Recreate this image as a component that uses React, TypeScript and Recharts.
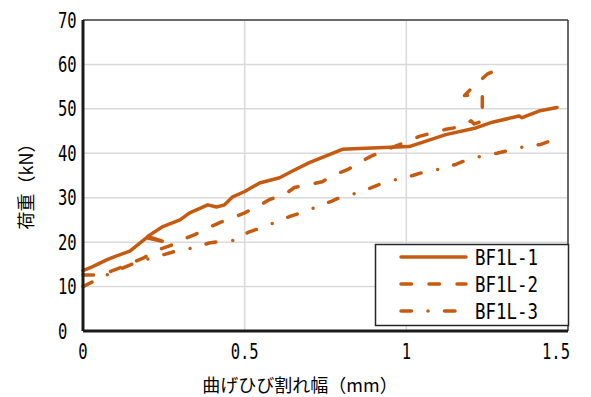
import React from 'react';
import { LineChart, Line, XAxis, YAxis, CartesianGrid, ReferenceLine } from 'recharts';

const xTicks = [0, 0.5, 1, 1.5];
const yTicks = [0, 10, 20, 30, 40, 50, 60, 70];
const seriesNames = ['BF1L-1', 'BF1L-2', 'BF1L-3'];

// BF1L-1: crack width (mm) / load (kN)
const bf1l1Width = [0, 0.03, 0.073, 0.1, 0.145, 0.197, 0.245, 0.2, 0.247, 0.3, 0.33, 0.386, 0.413, 0.438, 0.463, 0.5, 0.546, 0.608, 0.648, 0.7, 0.752, 0.802, 0.855, 1.009, 1.122, 1.215, 1.266, 1.349, 1.358, 1.41, 1.466];
const bf1l1Load = [13.6, 14.5, 16, 16.8, 18, 21, 20.2, 21.3, 23.5, 25, 26.6, 28.4, 27.9, 28.4, 30.2, 31.4, 33.3, 34.5, 36, 37.9, 39.4, 40.9, 41.1, 41.5, 44.2, 45.7, 47, 48.4, 48, 49.5, 50.3];

// BF1L-2
const bf1l2Width = [0, 0.036, 0.073, 0.114, 0.135, 0.186, 0.225, 0.27, 0.305, 0.346, 0.386, 0.423, 0.463, 0.5, 0.54, 0.577, 0.623, 0.654, 0.7, 0.74, 0.778, 0.818, 0.855, 0.89, 0.926, 0.963, 1.003, 1.04, 1.086, 1.123, 1.17, 1.2, 1.21, 1.235, 1.235, 1.18, 1.2, 1.25, 1.3];
const bf1l2Load = [12.6, 12.6, 13.1, 14.2, 14.9, 16.4, 18.1, 19.2, 20.5, 21.7, 23.2, 24.4, 25.5, 26.6, 28, 29.6, 30.7, 32.3, 33, 33.6, 35.2, 36.3, 37.9, 39.3, 40.4, 41.5, 42.7, 43.8, 44.7, 45.4, 46, 47.3, 46.6, 47.2, 53.3, 53, 54.5, 57.8, 59.5];

// BF1L-3
const bf1l3Width = [0, 0.036, 0.08, 0.15, 0.21, 0.27, 0.3, 0.343, 0.39, 0.43, 0.474, 0.51, 0.55, 0.595, 0.64, 0.675, 0.72, 0.768, 0.8, 0.85, 0.89, 0.927, 0.975, 1.02, 1.06, 1.107, 1.153, 1.19, 1.236, 1.28, 1.32, 1.37, 1.416, 1.457];
const bf1l3Load = [10, 11.3, 12.8, 15, 16.4, 17.6, 18.3, 18.7, 19.8, 20.2, 20.4, 22.2, 23.2, 24.5, 25.8, 26.6, 27.9, 29.2, 30.2, 31.1, 32.2, 33.3, 34.2, 35, 35.9, 36.5, 37.5, 38.6, 39.4, 40, 40.7, 41.6, 42, 43.1];

const toPoints = (w: number[], p: number[]) => w.map((v, i) => ({ w: v, p: p[i] }));

const LINE_COLOR = '#C55A11';
const monoFont = '"DejaVu Sans Mono", "Liberation Mono", monospace';
const jpFont = '"Noto Sans CJK JP", "Noto Sans", sans-serif';

const dashes = ['', '10.5 17.5', '10 17 0 16.6'];
const legendDashes = ['', '10.5 17.5', '10.5 16.5 0 16.5'];

function YTick({ y, payload }: any) {
  return (
    <g transform={`translate(58, ${y})`}>
      <text transform="scale(0.74, 1)" dy="0.36em" textAnchor="start" fontFamily={monoFont} fontSize={21} fill="#000">
        {payload.value}
      </text>
    </g>
  );
}

function XTick({ x, payload }: any) {
  const last = payload.value === 1.5;
  return (
    <g transform={`translate(${last ? x - 12 : x}, 351)`}>
      <text transform="scale(0.74, 1)" dy="0.36em" textAnchor="middle" fontFamily={monoFont} fontSize={21} fill="#000">
        {String(payload.value)}
      </text>
    </g>
  );
}

export default function App() {
  const series = [
    toPoints(bf1l1Width, bf1l1Load),
    toPoints(bf1l2Width, bf1l2Load),
    toPoints(bf1l3Width, bf1l3Load),
  ];
  return (
    <div style={{ position: 'relative', width: 591, height: 397, background: '#fff' }}>
      <style>{`body { margin: 0; }`}</style>
      <LineChart width={591} height={397} margin={{ top: 20, right: 23, bottom: 0, left: 0 }}>
        <CartesianGrid stroke="#D9D9D9" strokeWidth={1.5} />
        <XAxis
          dataKey="w"
          type="number"
          domain={[0, 1.5]}
          ticks={xTicks}
          height={66}
          tickLine={false}
          axisLine={{ stroke: '#1A1A1A', strokeWidth: 3 }}
          tick={<XTick />}
          allowDuplicatedCategory={false}
          label={{
            content: () => (
              <text x={300} y={392} textAnchor="middle" fontFamily={jpFont} fontSize={18} fill="#000">
                曲げひび割れ幅（mm）
              </text>
            ),
          }}
        />
        <YAxis
          type="number"
          domain={[0, 70]}
          ticks={yTicks}
          width={83}
          tickLine={false}
          axisLine={{ stroke: '#1A1A1A', strokeWidth: 3 }}
          tick={<YTick />}
          label={{
            content: () => (
              <text
                x={25}
                y={182}
                transform="rotate(-90 25 182)"
                textAnchor="middle"
                dominantBaseline="central"
                fontFamily={jpFont}
                fontSize={18}
                fill="#000"
              >
                荷重（kN）
              </text>
            ),
          }}
        />
        <ReferenceLine y={70} stroke="#404040" strokeWidth={1.5} />
        <ReferenceLine x={1.5} stroke="#404040" strokeWidth={1.5} />
        {series.map((data, i) => (
          <Line
            key={seriesNames[i]}
            data={data}
            dataKey="p"
            name={seriesNames[i]}
            stroke={LINE_COLOR}
            strokeWidth={3.5}
            strokeDasharray={dashes[i] || undefined}
            strokeLinecap="round"
            strokeLinejoin="round"
            dot={false}
            activeDot={false}
            isAnimationActive={false}
          />
        ))}
      </LineChart>
      {/* legend box in the lower right of the plot */}
      <svg width={591} height={397} style={{ position: 'absolute', left: 0, top: 0, pointerEvents: 'none' }}>
        <rect x={375.5} y={244.5} width={193} height={81} fill="#fff" stroke="#262626" strokeWidth={1.5} />
        {seriesNames.map((name, i) => {
          const cy = 257 + i * 27;
          return (
            <g key={name}>
              <line
                x1={401}
                x2={i === 2 ? 455 : 466}
                y1={cy}
                y2={cy}
                stroke={LINE_COLOR}
                strokeWidth={3.5}
                strokeLinecap="round"
                strokeDasharray={legendDashes[i] || undefined}
              />
              <text transform={`translate(475, ${cy}) scale(0.83, 1)`} dy="0.36em" fontFamily={monoFont} fontSize={21} fill="#000">
                {name}
              </text>
            </g>
          );
        })}
      </svg>
    </div>
  );
}
